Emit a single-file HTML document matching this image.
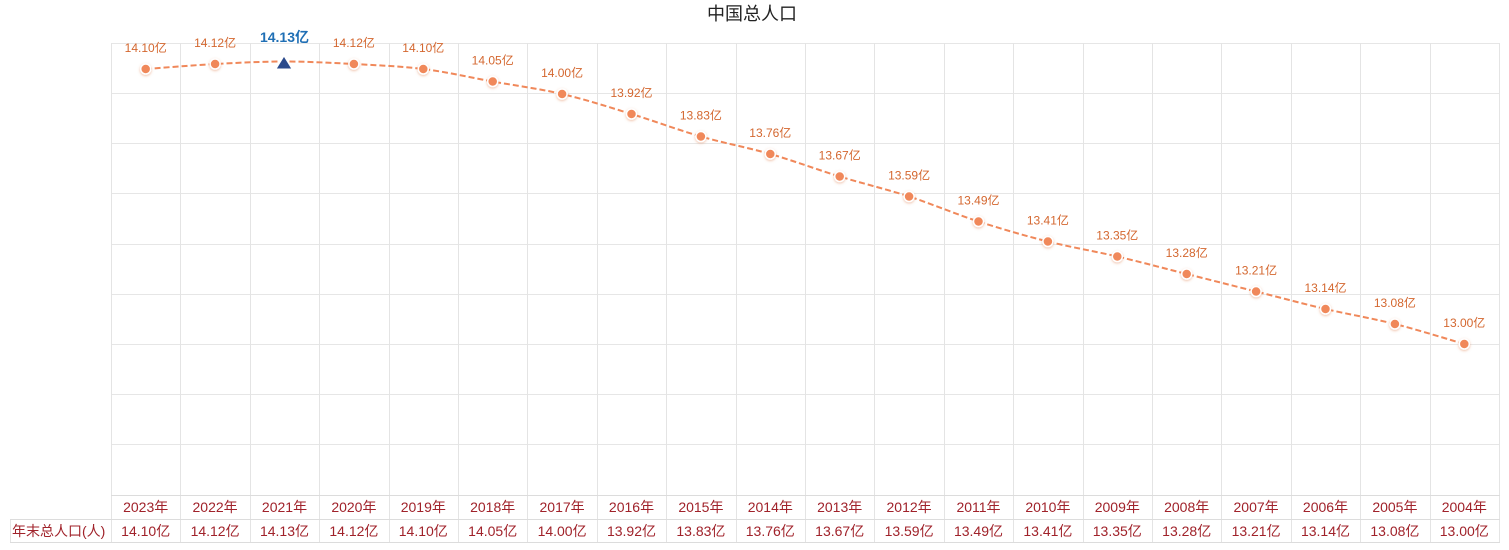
<!DOCTYPE html>
<html><head><meta charset="utf-8"><style>
html,body{margin:0;padding:0;background:#fff;}
svg{display:block;}
text{font-family:"Liberation Sans","Noto Sans CJK SC",sans-serif;}
</style></head><body>
<svg width="1509" height="550" viewBox="0 0 1509 550" xmlns="http://www.w3.org/2000/svg">
<defs>
<filter id="sh" x="-50%" y="-50%" width="200%" height="200%"><feDropShadow dx="0" dy="1" stdDeviation="1.2" flood-color="#e08050" flood-opacity="0.5"/></filter>
</defs>
<text x="752" y="20" text-anchor="middle" font-size="18" fill="#222">中国总人口</text>
<g stroke="#e6e6e6" stroke-width="1" fill="none">
<line x1="111" y1="43.5" x2="1499" y2="43.5"/>
<line x1="111" y1="93.5" x2="1499" y2="93.5"/>
<line x1="111" y1="143.5" x2="1499" y2="143.5"/>
<line x1="111" y1="193.5" x2="1499" y2="193.5"/>
<line x1="111" y1="244.5" x2="1499" y2="244.5"/>
<line x1="111" y1="294.5" x2="1499" y2="294.5"/>
<line x1="111" y1="344.5" x2="1499" y2="344.5"/>
<line x1="111" y1="394.5" x2="1499" y2="394.5"/>
<line x1="111" y1="444.5" x2="1499" y2="444.5"/>
</g>
<g stroke="#e4e4e4" stroke-width="1">
<line x1="111.5" y1="43" x2="111.5" y2="542"/>
<line x1="180.5" y1="43" x2="180.5" y2="542"/>
<line x1="250.5" y1="43" x2="250.5" y2="542"/>
<line x1="319.5" y1="43" x2="319.5" y2="542"/>
<line x1="389.5" y1="43" x2="389.5" y2="542"/>
<line x1="458.5" y1="43" x2="458.5" y2="542"/>
<line x1="527.5" y1="43" x2="527.5" y2="542"/>
<line x1="597.5" y1="43" x2="597.5" y2="542"/>
<line x1="666.5" y1="43" x2="666.5" y2="542"/>
<line x1="736.5" y1="43" x2="736.5" y2="542"/>
<line x1="805.5" y1="43" x2="805.5" y2="542"/>
<line x1="874.5" y1="43" x2="874.5" y2="542"/>
<line x1="944.5" y1="43" x2="944.5" y2="542"/>
<line x1="1013.5" y1="43" x2="1013.5" y2="542"/>
<line x1="1083.5" y1="43" x2="1083.5" y2="542"/>
<line x1="1152.5" y1="43" x2="1152.5" y2="542"/>
<line x1="1221.5" y1="43" x2="1221.5" y2="542"/>
<line x1="1291.5" y1="43" x2="1291.5" y2="542"/>
<line x1="1360.5" y1="43" x2="1360.5" y2="542"/>
<line x1="1430.5" y1="43" x2="1430.5" y2="542"/>
<line x1="1499.5" y1="43" x2="1499.5" y2="542"/>
<line x1="10.5" y1="519" x2="10.5" y2="542"/>
</g>
<g stroke="#dcdcdc" stroke-width="1">
<line x1="111" y1="495.5" x2="1500" y2="495.5"/>
<line x1="10" y1="519.5" x2="1500" y2="519.5"/>
<line x1="10" y1="542.5" x2="1500" y2="542.5"/>
</g>
<path d="M145.7,69 C157.3,68.2 192.0,65.3 215.1,64 C238.2,62.8 261.4,61.5 284.5,61.5 C307.6,61.5 330.8,62.8 353.9,64 C377.0,65.3 400.2,66.1 423.3,69 C446.4,71.9 469.6,77.3 492.7,81.5 C515.8,85.7 539.0,88.6 562.1,94 C585.2,99.4 608.4,106.9 631.5,114 C654.6,121.1 677.8,129.8 700.9,136.5 C724.0,143.2 747.2,147.3 770.3,154 C793.4,160.7 816.6,169.4 839.7,176.5 C862.8,183.6 886.0,189.0 909.1,196.5 C932.2,204.0 955.4,214.0 978.5,221.5 C1001.6,229.0 1024.8,235.7 1047.9,241.5 C1071.0,247.3 1094.2,251.1 1117.3,256.5 C1140.4,261.9 1163.6,268.2 1186.7,274 C1209.8,279.8 1233.0,285.7 1256.1,291.5 C1279.2,297.3 1302.4,303.6 1325.5,309 C1348.6,314.4 1371.8,318.2 1394.9,324 C1418.0,329.8 1452.7,340.7 1464.3,344" fill="none" stroke="#f0885a" stroke-width="2" stroke-dasharray="6,3"/>
<g fill="#f0885a" stroke="#fff" stroke-width="1.5" filter="url(#sh)">
<circle cx="145.7" cy="69" r="5"/>
<circle cx="215.1" cy="64" r="5"/>
<circle cx="353.9" cy="64" r="5"/>
<circle cx="423.3" cy="69" r="5"/>
<circle cx="492.7" cy="81.5" r="5"/>
<circle cx="562.1" cy="94" r="5"/>
<circle cx="631.5" cy="114" r="5"/>
<circle cx="700.9" cy="136.5" r="5"/>
<circle cx="770.3" cy="154" r="5"/>
<circle cx="839.7" cy="176.5" r="5"/>
<circle cx="909.1" cy="196.5" r="5"/>
<circle cx="978.5" cy="221.5" r="5"/>
<circle cx="1047.9" cy="241.5" r="5"/>
<circle cx="1117.3" cy="256.5" r="5"/>
<circle cx="1186.7" cy="274" r="5"/>
<circle cx="1256.1" cy="291.5" r="5"/>
<circle cx="1325.5" cy="309" r="5"/>
<circle cx="1394.9" cy="324" r="5"/>
<circle cx="1464.3" cy="344" r="5"/>
</g>
<polygon points="284,56 292,69 276,69" fill="#2b4a8c" stroke="#fff" stroke-width="1"/>
<g font-size="12" fill="#d4672f" text-anchor="middle">
<text x="145.7" y="52">14.10亿</text>
<text x="215.1" y="47">14.12亿</text>
<text x="353.9" y="47">14.12亿</text>
<text x="423.3" y="52">14.10亿</text>
<text x="492.7" y="64.5">14.05亿</text>
<text x="562.1" y="77">14.00亿</text>
<text x="631.5" y="97">13.92亿</text>
<text x="700.9" y="119.5">13.83亿</text>
<text x="770.3" y="137">13.76亿</text>
<text x="839.7" y="159.5">13.67亿</text>
<text x="909.1" y="179.5">13.59亿</text>
<text x="978.5" y="204.5">13.49亿</text>
<text x="1047.9" y="224.5">13.41亿</text>
<text x="1117.3" y="239.5">13.35亿</text>
<text x="1186.7" y="257">13.28亿</text>
<text x="1256.1" y="274.5">13.21亿</text>
<text x="1325.5" y="292">13.14亿</text>
<text x="1394.9" y="307">13.08亿</text>
<text x="1464.3" y="327">13.00亿</text>
</g>
<text x="284.5" y="42" font-size="14" font-weight="bold" fill="#1f6fb5" text-anchor="middle">14.13亿</text>
<g font-size="14" fill="#a0222a" text-anchor="middle">
<text x="145.7" y="512">2023年</text>
<text x="215.1" y="512">2022年</text>
<text x="284.5" y="512">2021年</text>
<text x="353.9" y="512">2020年</text>
<text x="423.3" y="512">2019年</text>
<text x="492.7" y="512">2018年</text>
<text x="562.1" y="512">2017年</text>
<text x="631.5" y="512">2016年</text>
<text x="700.9" y="512">2015年</text>
<text x="770.3" y="512">2014年</text>
<text x="839.7" y="512">2013年</text>
<text x="909.1" y="512">2012年</text>
<text x="978.5" y="512">2011年</text>
<text x="1047.9" y="512">2010年</text>
<text x="1117.3" y="512">2009年</text>
<text x="1186.7" y="512">2008年</text>
<text x="1256.1" y="512">2007年</text>
<text x="1325.5" y="512">2006年</text>
<text x="1394.9" y="512">2005年</text>
<text x="1464.3" y="512">2004年</text>
<text x="145.7" y="536">14.10亿</text>
<text x="215.1" y="536">14.12亿</text>
<text x="284.5" y="536">14.13亿</text>
<text x="353.9" y="536">14.12亿</text>
<text x="423.3" y="536">14.10亿</text>
<text x="492.7" y="536">14.05亿</text>
<text x="562.1" y="536">14.00亿</text>
<text x="631.5" y="536">13.92亿</text>
<text x="700.9" y="536">13.83亿</text>
<text x="770.3" y="536">13.76亿</text>
<text x="839.7" y="536">13.67亿</text>
<text x="909.1" y="536">13.59亿</text>
<text x="978.5" y="536">13.49亿</text>
<text x="1047.9" y="536">13.41亿</text>
<text x="1117.3" y="536">13.35亿</text>
<text x="1186.7" y="536">13.28亿</text>
<text x="1256.1" y="536">13.21亿</text>
<text x="1325.5" y="536">13.14亿</text>
<text x="1394.9" y="536">13.08亿</text>
<text x="1464.3" y="536">13.00亿</text>
</g>
<text x="12" y="536" font-size="14" fill="#a0222a">年末总人口(人)</text>
</svg>
</body></html>
